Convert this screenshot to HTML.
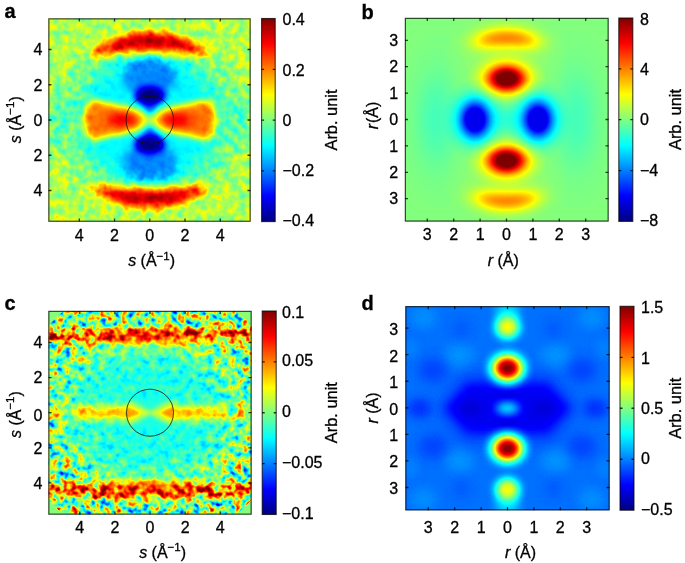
<!DOCTYPE html>
<html><head><meta charset="utf-8"><title>Figure</title>
<style>
html,body{margin:0;padding:0;background:#fff;}
svg{display:block;}
text{font-family:"Liberation Sans",sans-serif;fill:#000;stroke:#000;stroke-width:0.3px;}
.t{font-size:16px;}
.l{font-size:16px;}
.u{font-size:16.4px;}
.p{font-size:20px;font-weight:bold;fill:#000;}
.i{font-style:italic;}
.s{font-size:11.5px;}
</style></head><body>
<svg width="685" height="563" viewBox="0 0 685 563">
<defs>
<filter id="b1" filterUnits="userSpaceOnUse" x="-170" y="-170" width="340" height="340" color-interpolation-filters="sRGB"><feGaussianBlur stdDeviation="1"/></filter>
<filter id="b2" filterUnits="userSpaceOnUse" x="-170" y="-170" width="340" height="340" color-interpolation-filters="sRGB"><feGaussianBlur stdDeviation="2"/></filter>
<filter id="b3" filterUnits="userSpaceOnUse" x="-170" y="-170" width="340" height="340" color-interpolation-filters="sRGB"><feGaussianBlur stdDeviation="3"/></filter>
<filter id="b4" filterUnits="userSpaceOnUse" x="-170" y="-170" width="340" height="340" color-interpolation-filters="sRGB"><feGaussianBlur stdDeviation="4"/></filter>
<filter id="b5" filterUnits="userSpaceOnUse" x="-170" y="-170" width="340" height="340" color-interpolation-filters="sRGB"><feGaussianBlur stdDeviation="5"/></filter>
<filter id="b6" filterUnits="userSpaceOnUse" x="-170" y="-170" width="340" height="340" color-interpolation-filters="sRGB"><feGaussianBlur stdDeviation="6"/></filter>
<filter id="b8" filterUnits="userSpaceOnUse" x="-170" y="-170" width="340" height="340" color-interpolation-filters="sRGB"><feGaussianBlur stdDeviation="8"/></filter>
<filter id="b10" filterUnits="userSpaceOnUse" x="-170" y="-170" width="340" height="340" color-interpolation-filters="sRGB"><feGaussianBlur stdDeviation="10"/></filter>
<filter id="b14" filterUnits="userSpaceOnUse" x="-170" y="-170" width="340" height="340" color-interpolation-filters="sRGB"><feGaussianBlur stdDeviation="14"/></filter>
<filter id="b15" filterUnits="userSpaceOnUse" x="-170" y="-170" width="340" height="340" color-interpolation-filters="sRGB"><feGaussianBlur stdDeviation="1.5"/></filter>
<filter id="b25" filterUnits="userSpaceOnUse" x="-170" y="-170" width="340" height="340" color-interpolation-filters="sRGB"><feGaussianBlur stdDeviation="2.5"/></filter>
<filter id="b07" filterUnits="userSpaceOnUse" x="-170" y="-170" width="340" height="340" color-interpolation-filters="sRGB"><feGaussianBlur stdDeviation="0.7"/></filter>
<filter id="chR" x="-20%" y="-20%" width="140%" height="140%" color-interpolation-filters="sRGB"><feColorMatrix type="matrix" values="1 0 0 0 0  0 0 0 0 0  0 0 0 0 0  0 0 0 0 1"/></filter>
<filter id="chG" x="-20%" y="-20%" width="140%" height="140%" color-interpolation-filters="sRGB"><feColorMatrix type="matrix" values="0 0 0 0 0  0 1 0 0 0  0 0 0 0 0  0 0 0 0 1"/></filter>
<filter id="jetA" filterUnits="userSpaceOnUse" x="48.5" y="18.5" width="202" height="203.1" color-interpolation-filters="sRGB">
<feColorMatrix in="SourceGraphic" type="matrix" values="1 0 0 0 0  1 0 0 0 0  1 0 0 0 0  0 0 0 0 1" result="F"/>
<feColorMatrix in="SourceGraphic" type="matrix" values="0 1 0 0 0  0 1 0 0 0  0 1 0 0 0  0 0 0 0 1" result="A"/>
<feTurbulence type="fractalNoise" baseFrequency="0.13" numOctaves="2" seed="3" result="T0"/>
<feColorMatrix in="T0" type="matrix" values="1 0 0 0 0  1 0 0 0 0  1 0 0 0 0  0 0 0 0 1" result="N"/>
<feComposite in="A" in2="N" operator="arithmetic" k1="1" k2="-0.5" k3="0" k4="0.5" result="T"/>
<feComposite in="F" in2="T" operator="arithmetic" k1="0" k2="1" k3="0.3" k4="-0.15" result="V"/>
<feComponentTransfer in="V">
<feFuncR type="table" tableValues="0 0 0 0 0.5 1 1 1 0.5"/>
<feFuncG type="table" tableValues="0 0 0.5 1 1 1 0.5 0 0"/>
<feFuncB type="table" tableValues="0.5 1 1 1 0.5 0 0 0 0"/>
</feComponentTransfer>
</filter>
<clipPath id="clipA"><rect x="48.5" y="18.5" width="202" height="203.1"/></clipPath>
<linearGradient id="cb261_18" x1="0" y1="1" x2="0" y2="0"><stop offset="0" stop-color="#000080"/><stop offset="0.125" stop-color="#0000ff"/><stop offset="0.25" stop-color="#0080ff"/><stop offset="0.375" stop-color="#00ffff"/><stop offset="0.5" stop-color="#80ff80"/><stop offset="0.625" stop-color="#ffff00"/><stop offset="0.75" stop-color="#ff8000"/><stop offset="0.875" stop-color="#ff0000"/><stop offset="1" stop-color="#800000"/></linearGradient>
<radialGradient id="gg0"><stop offset="0.0000" stop-color="#000" stop-opacity="0.1200"/><stop offset="0.0417" stop-color="#000" stop-opacity="0.1191"/><stop offset="0.0833" stop-color="#000" stop-opacity="0.1163"/><stop offset="0.1250" stop-color="#000" stop-opacity="0.1119"/><stop offset="0.1667" stop-color="#000" stop-opacity="0.1059"/><stop offset="0.2083" stop-color="#000" stop-opacity="0.0987"/><stop offset="0.2500" stop-color="#000" stop-opacity="0.0906"/><stop offset="0.2917" stop-color="#000" stop-opacity="0.0818"/><stop offset="0.3333" stop-color="#000" stop-opacity="0.0728"/><stop offset="0.3750" stop-color="#000" stop-opacity="0.0637"/><stop offset="0.4167" stop-color="#000" stop-opacity="0.0549"/><stop offset="0.4583" stop-color="#000" stop-opacity="0.0466"/><stop offset="0.5000" stop-color="#000" stop-opacity="0.0390"/><stop offset="0.5417" stop-color="#000" stop-opacity="0.0320"/><stop offset="0.5833" stop-color="#000" stop-opacity="0.0260"/><stop offset="0.6250" stop-color="#000" stop-opacity="0.0207"/><stop offset="0.6667" stop-color="#000" stop-opacity="0.0162"/><stop offset="0.7083" stop-color="#000" stop-opacity="0.0125"/><stop offset="0.7500" stop-color="#000" stop-opacity="0.0095"/><stop offset="0.7917" stop-color="#000" stop-opacity="0.0072"/><stop offset="0.8333" stop-color="#000" stop-opacity="0.0053"/><stop offset="0.8750" stop-color="#000" stop-opacity="0.0038"/><stop offset="0.9167" stop-color="#000" stop-opacity="0.0027"/><stop offset="0.9583" stop-color="#000" stop-opacity="0.0019"/><stop offset="1.0000" stop-color="#000" stop-opacity="0.0000"/></radialGradient>
<radialGradient id="gg1"><stop offset="0.0000" stop-color="#000" stop-opacity="0.1600"/><stop offset="0.0417" stop-color="#000" stop-opacity="0.1588"/><stop offset="0.0833" stop-color="#000" stop-opacity="0.1551"/><stop offset="0.1250" stop-color="#000" stop-opacity="0.1491"/><stop offset="0.1667" stop-color="#000" stop-opacity="0.1412"/><stop offset="0.2083" stop-color="#000" stop-opacity="0.1316"/><stop offset="0.2500" stop-color="#000" stop-opacity="0.1208"/><stop offset="0.2917" stop-color="#000" stop-opacity="0.1091"/><stop offset="0.3333" stop-color="#000" stop-opacity="0.0970"/><stop offset="0.3750" stop-color="#000" stop-opacity="0.0850"/><stop offset="0.4167" stop-color="#000" stop-opacity="0.0733"/><stop offset="0.4583" stop-color="#000" stop-opacity="0.0622"/><stop offset="0.5000" stop-color="#000" stop-opacity="0.0519"/><stop offset="0.5417" stop-color="#000" stop-opacity="0.0427"/><stop offset="0.5833" stop-color="#000" stop-opacity="0.0346"/><stop offset="0.6250" stop-color="#000" stop-opacity="0.0276"/><stop offset="0.6667" stop-color="#000" stop-opacity="0.0217"/><stop offset="0.7083" stop-color="#000" stop-opacity="0.0167"/><stop offset="0.7500" stop-color="#000" stop-opacity="0.0127"/><stop offset="0.7917" stop-color="#000" stop-opacity="0.0095"/><stop offset="0.8333" stop-color="#000" stop-opacity="0.0070"/><stop offset="0.8750" stop-color="#000" stop-opacity="0.0051"/><stop offset="0.9167" stop-color="#000" stop-opacity="0.0036"/><stop offset="0.9583" stop-color="#000" stop-opacity="0.0026"/><stop offset="1.0000" stop-color="#000" stop-opacity="0.0000"/></radialGradient>
<radialGradient id="gg2"><stop offset="0.0000" stop-color="#fff" stop-opacity="0.0850"/><stop offset="0.0417" stop-color="#fff" stop-opacity="0.0843"/><stop offset="0.0833" stop-color="#fff" stop-opacity="0.0824"/><stop offset="0.1250" stop-color="#fff" stop-opacity="0.0792"/><stop offset="0.1667" stop-color="#fff" stop-opacity="0.0750"/><stop offset="0.2083" stop-color="#fff" stop-opacity="0.0699"/><stop offset="0.2500" stop-color="#fff" stop-opacity="0.0642"/><stop offset="0.2917" stop-color="#fff" stop-opacity="0.0580"/><stop offset="0.3333" stop-color="#fff" stop-opacity="0.0516"/><stop offset="0.3750" stop-color="#fff" stop-opacity="0.0451"/><stop offset="0.4167" stop-color="#fff" stop-opacity="0.0389"/><stop offset="0.4583" stop-color="#fff" stop-opacity="0.0330"/><stop offset="0.5000" stop-color="#fff" stop-opacity="0.0276"/><stop offset="0.5417" stop-color="#fff" stop-opacity="0.0227"/><stop offset="0.5833" stop-color="#fff" stop-opacity="0.0184"/><stop offset="0.6250" stop-color="#fff" stop-opacity="0.0147"/><stop offset="0.6667" stop-color="#fff" stop-opacity="0.0115"/><stop offset="0.7083" stop-color="#fff" stop-opacity="0.0089"/><stop offset="0.7500" stop-color="#fff" stop-opacity="0.0068"/><stop offset="0.7917" stop-color="#fff" stop-opacity="0.0051"/><stop offset="0.8333" stop-color="#fff" stop-opacity="0.0037"/><stop offset="0.8750" stop-color="#fff" stop-opacity="0.0027"/><stop offset="0.9167" stop-color="#fff" stop-opacity="0.0019"/><stop offset="0.9583" stop-color="#fff" stop-opacity="0.0014"/><stop offset="1.0000" stop-color="#fff" stop-opacity="0.0000"/></radialGradient>
<radialGradient id="gg3"><stop offset="0.0000" stop-color="#fff" stop-opacity="1.0000"/><stop offset="0.0417" stop-color="#fff" stop-opacity="1.0000"/><stop offset="0.0833" stop-color="#fff" stop-opacity="1.0000"/><stop offset="0.1250" stop-color="#fff" stop-opacity="1.0000"/><stop offset="0.1667" stop-color="#fff" stop-opacity="1.0000"/><stop offset="0.2083" stop-color="#fff" stop-opacity="1.0000"/><stop offset="0.2500" stop-color="#fff" stop-opacity="0.9813"/><stop offset="0.2917" stop-color="#fff" stop-opacity="0.8865"/><stop offset="0.3333" stop-color="#fff" stop-opacity="0.7885"/><stop offset="0.3750" stop-color="#fff" stop-opacity="0.6904"/><stop offset="0.4167" stop-color="#fff" stop-opacity="0.5952"/><stop offset="0.4583" stop-color="#fff" stop-opacity="0.5051"/><stop offset="0.5000" stop-color="#fff" stop-opacity="0.4220"/><stop offset="0.5417" stop-color="#fff" stop-opacity="0.3472"/><stop offset="0.5833" stop-color="#fff" stop-opacity="0.2811"/><stop offset="0.6250" stop-color="#fff" stop-opacity="0.2241"/><stop offset="0.6667" stop-color="#fff" stop-opacity="0.1759"/><stop offset="0.7083" stop-color="#fff" stop-opacity="0.1360"/><stop offset="0.7500" stop-color="#fff" stop-opacity="0.1034"/><stop offset="0.7917" stop-color="#fff" stop-opacity="0.0775"/><stop offset="0.8333" stop-color="#fff" stop-opacity="0.0571"/><stop offset="0.8750" stop-color="#fff" stop-opacity="0.0415"/><stop offset="0.9167" stop-color="#fff" stop-opacity="0.0296"/><stop offset="0.9583" stop-color="#fff" stop-opacity="0.0208"/><stop offset="1.0000" stop-color="#fff" stop-opacity="0.0000"/></radialGradient>
<radialGradient id="gg4"><stop offset="0.0000" stop-color="#fff" stop-opacity="0.3300"/><stop offset="0.0417" stop-color="#fff" stop-opacity="0.3274"/><stop offset="0.0833" stop-color="#fff" stop-opacity="0.3198"/><stop offset="0.1250" stop-color="#fff" stop-opacity="0.3076"/><stop offset="0.1667" stop-color="#fff" stop-opacity="0.2912"/><stop offset="0.2083" stop-color="#fff" stop-opacity="0.2715"/><stop offset="0.2500" stop-color="#fff" stop-opacity="0.2491"/><stop offset="0.2917" stop-color="#fff" stop-opacity="0.2250"/><stop offset="0.3333" stop-color="#fff" stop-opacity="0.2002"/><stop offset="0.3750" stop-color="#fff" stop-opacity="0.1753"/><stop offset="0.4167" stop-color="#fff" stop-opacity="0.1511"/><stop offset="0.4583" stop-color="#fff" stop-opacity="0.1282"/><stop offset="0.5000" stop-color="#fff" stop-opacity="0.1071"/><stop offset="0.5417" stop-color="#fff" stop-opacity="0.0881"/><stop offset="0.5833" stop-color="#fff" stop-opacity="0.0714"/><stop offset="0.6250" stop-color="#fff" stop-opacity="0.0569"/><stop offset="0.6667" stop-color="#fff" stop-opacity="0.0447"/><stop offset="0.7083" stop-color="#fff" stop-opacity="0.0345"/><stop offset="0.7500" stop-color="#fff" stop-opacity="0.0263"/><stop offset="0.7917" stop-color="#fff" stop-opacity="0.0197"/><stop offset="0.8333" stop-color="#fff" stop-opacity="0.0145"/><stop offset="0.8750" stop-color="#fff" stop-opacity="0.0105"/><stop offset="0.9167" stop-color="#fff" stop-opacity="0.0075"/><stop offset="0.9583" stop-color="#fff" stop-opacity="0.0053"/><stop offset="1.0000" stop-color="#fff" stop-opacity="0.0000"/></radialGradient>
<radialGradient id="gg5"><stop offset="0.0000" stop-color="#fff" stop-opacity="0.2500"/><stop offset="0.0417" stop-color="#fff" stop-opacity="0.2481"/><stop offset="0.0833" stop-color="#fff" stop-opacity="0.2423"/><stop offset="0.1250" stop-color="#fff" stop-opacity="0.2330"/><stop offset="0.1667" stop-color="#fff" stop-opacity="0.2206"/><stop offset="0.2083" stop-color="#fff" stop-opacity="0.2056"/><stop offset="0.2500" stop-color="#fff" stop-opacity="0.1887"/><stop offset="0.2917" stop-color="#fff" stop-opacity="0.1705"/><stop offset="0.3333" stop-color="#fff" stop-opacity="0.1516"/><stop offset="0.3750" stop-color="#fff" stop-opacity="0.1328"/><stop offset="0.4167" stop-color="#fff" stop-opacity="0.1145"/><stop offset="0.4583" stop-color="#fff" stop-opacity="0.0971"/><stop offset="0.5000" stop-color="#fff" stop-opacity="0.0812"/><stop offset="0.5417" stop-color="#fff" stop-opacity="0.0668"/><stop offset="0.5833" stop-color="#fff" stop-opacity="0.0541"/><stop offset="0.6250" stop-color="#fff" stop-opacity="0.0431"/><stop offset="0.6667" stop-color="#fff" stop-opacity="0.0338"/><stop offset="0.7083" stop-color="#fff" stop-opacity="0.0261"/><stop offset="0.7500" stop-color="#fff" stop-opacity="0.0199"/><stop offset="0.7917" stop-color="#fff" stop-opacity="0.0149"/><stop offset="0.8333" stop-color="#fff" stop-opacity="0.0110"/><stop offset="0.8750" stop-color="#fff" stop-opacity="0.0080"/><stop offset="0.9167" stop-color="#fff" stop-opacity="0.0057"/><stop offset="0.9583" stop-color="#fff" stop-opacity="0.0040"/><stop offset="1.0000" stop-color="#fff" stop-opacity="0.0000"/></radialGradient>
<radialGradient id="gg6"><stop offset="0.0000" stop-color="#000" stop-opacity="0.7800"/><stop offset="0.0417" stop-color="#000" stop-opacity="0.7800"/><stop offset="0.0833" stop-color="#000" stop-opacity="0.7800"/><stop offset="0.1250" stop-color="#000" stop-opacity="0.7800"/><stop offset="0.1667" stop-color="#000" stop-opacity="0.7800"/><stop offset="0.2083" stop-color="#000" stop-opacity="0.7800"/><stop offset="0.2500" stop-color="#000" stop-opacity="0.7800"/><stop offset="0.2917" stop-color="#000" stop-opacity="0.7501"/><stop offset="0.3333" stop-color="#000" stop-opacity="0.6672"/><stop offset="0.3750" stop-color="#000" stop-opacity="0.5842"/><stop offset="0.4167" stop-color="#000" stop-opacity="0.5036"/><stop offset="0.4583" stop-color="#000" stop-opacity="0.4274"/><stop offset="0.5000" stop-color="#000" stop-opacity="0.3571"/><stop offset="0.5417" stop-color="#000" stop-opacity="0.2938"/><stop offset="0.5833" stop-color="#000" stop-opacity="0.2379"/><stop offset="0.6250" stop-color="#000" stop-opacity="0.1897"/><stop offset="0.6667" stop-color="#000" stop-opacity="0.1489"/><stop offset="0.7083" stop-color="#000" stop-opacity="0.1150"/><stop offset="0.7500" stop-color="#000" stop-opacity="0.0875"/><stop offset="0.7917" stop-color="#000" stop-opacity="0.0655"/><stop offset="0.8333" stop-color="#000" stop-opacity="0.0483"/><stop offset="0.8750" stop-color="#000" stop-opacity="0.0351"/><stop offset="0.9167" stop-color="#000" stop-opacity="0.0251"/><stop offset="0.9583" stop-color="#000" stop-opacity="0.0176"/><stop offset="1.0000" stop-color="#000" stop-opacity="0.0000"/></radialGradient>
<filter id="jetB" filterUnits="userSpaceOnUse" x="405" y="18" width="203.5" height="203.4" color-interpolation-filters="sRGB">
<feComponentTransfer in="SourceGraphic">
<feFuncR type="table" tableValues="0 0 0 0 0.5 1 1 1 0.5"/>
<feFuncG type="table" tableValues="0 0 0.5 1 1 1 0.5 0 0"/>
<feFuncB type="table" tableValues="0.5 1 1 1 0.5 0 0 0 0"/>
</feComponentTransfer>
</filter>
<clipPath id="clipB"><rect x="405" y="18" width="203.5" height="203.4"/></clipPath>
<linearGradient id="cb618_18" x1="0" y1="1" x2="0" y2="0"><stop offset="0" stop-color="#000080"/><stop offset="0.125" stop-color="#0000ff"/><stop offset="0.25" stop-color="#0080ff"/><stop offset="0.375" stop-color="#00ffff"/><stop offset="0.5" stop-color="#80ff80"/><stop offset="0.625" stop-color="#ffff00"/><stop offset="0.75" stop-color="#ff8000"/><stop offset="0.875" stop-color="#ff0000"/><stop offset="1" stop-color="#800000"/></linearGradient>
<clipPath id="clipCin"><circle r="23.5"/></clipPath>
<radialGradient id="ampC" gradientUnits="userSpaceOnUse" cx="0" cy="0" r="134" gradientTransform="scale(1.13,1)"><stop offset="0" stop-color="#262626"/><stop offset="0.3" stop-color="#2e2e2e"/><stop offset="0.5" stop-color="#575757"/><stop offset="0.66" stop-color="#bfbfbf"/><stop offset="0.8" stop-color="#ffffff"/><stop offset="1" stop-color="#ffffff"/></radialGradient>
<filter id="jetC" filterUnits="userSpaceOnUse" x="48.5" y="311" width="203" height="203.5" color-interpolation-filters="sRGB">
<feColorMatrix in="SourceGraphic" type="matrix" values="1 0 0 0 0  1 0 0 0 0  1 0 0 0 0  0 0 0 0 1" result="F"/>
<feColorMatrix in="SourceGraphic" type="matrix" values="0 1 0 0 0  0 1 0 0 0  0 1 0 0 0  0 0 0 0 1" result="A"/>
<feTurbulence type="fractalNoise" baseFrequency="0.14" numOctaves="2" seed="7" result="T0"/>
<feColorMatrix in="T0" type="matrix" values="1 0 0 0 0  1 0 0 0 0  1 0 0 0 0  0 0 0 0 1" result="N"/>
<feComposite in="A" in2="N" operator="arithmetic" k1="1" k2="-0.5" k3="0" k4="0.5" result="T"/>
<feComposite in="F" in2="T" operator="arithmetic" k1="0" k2="1" k3="1.3" k4="-0.65" result="V"/>
<feComponentTransfer in="V">
<feFuncR type="table" tableValues="0 0 0 0 0.5 1 1 1 0.5"/>
<feFuncG type="table" tableValues="0 0 0.5 1 1 1 0.5 0 0"/>
<feFuncB type="table" tableValues="0.5 1 1 1 0.5 0 0 0 0"/>
</feComponentTransfer>
</filter>
<clipPath id="clipC"><rect x="48.5" y="311" width="203" height="203.5"/></clipPath>
<linearGradient id="cb262_311" x1="0" y1="1" x2="0" y2="0"><stop offset="0" stop-color="#000080"/><stop offset="0.125" stop-color="#0000ff"/><stop offset="0.25" stop-color="#0080ff"/><stop offset="0.375" stop-color="#00ffff"/><stop offset="0.5" stop-color="#80ff80"/><stop offset="0.625" stop-color="#ffff00"/><stop offset="0.75" stop-color="#ff8000"/><stop offset="0.875" stop-color="#ff0000"/><stop offset="1" stop-color="#800000"/></linearGradient>
<filter id="jetD" filterUnits="userSpaceOnUse" x="405.5" y="306.3" width="204" height="203.9" color-interpolation-filters="sRGB">
<feComponentTransfer in="SourceGraphic">
<feFuncR type="table" tableValues="0 0 0 0 0.5 1 1 1 0.5"/>
<feFuncG type="table" tableValues="0 0 0.5 1 1 1 0.5 0 0"/>
<feFuncB type="table" tableValues="0.5 1 1 1 0.5 0 0 0 0"/>
</feComponentTransfer>
</filter>
<clipPath id="clipD"><rect x="405.5" y="306.3" width="204" height="203.9"/></clipPath>
<linearGradient id="cb620_306" x1="0" y1="1" x2="0" y2="0"><stop offset="0" stop-color="#000080"/><stop offset="0.125" stop-color="#0000ff"/><stop offset="0.25" stop-color="#0080ff"/><stop offset="0.375" stop-color="#00ffff"/><stop offset="0.5" stop-color="#80ff80"/><stop offset="0.625" stop-color="#ffff00"/><stop offset="0.75" stop-color="#ff8000"/><stop offset="0.875" stop-color="#ff0000"/><stop offset="1" stop-color="#800000"/></linearGradient>
</defs>
<g clip-path="url(#clipA)"><g filter="url(#jetA)"><g filter="url(#chR)"><rect x="28.5" y="-1.5" width="242" height="243.1" fill="#8c8c8c"/><g transform="translate(149.8,120.0)"><ellipse cx="0" cy="0" rx="92" ry="88" fill="#787878" opacity="0.8" filter="url(#b8)"/><ellipse cx="0" cy="0" rx="70" ry="64" fill="#5e5e5e" opacity="0.95" filter="url(#b8)"/><ellipse cx="90" cy="0" rx="10" ry="30" fill="#707070" opacity="0.8" filter="url(#b6)"/><g transform="scale(-1,1)"><ellipse cx="90" cy="0" rx="10" ry="30" fill="#707070" opacity="0.8" filter="url(#b6)"/></g><ellipse rx="24" ry="3.5" fill="#757575" opacity="0.8" transform="rotate(42)" filter="url(#b25)"/><ellipse rx="24" ry="3.5" fill="#757575" opacity="0.8" transform="rotate(-42)" filter="url(#b25)"/><ellipse cx="0" cy="0" rx="9" ry="5" fill="#878787" opacity="0.9" filter="url(#b3)"/><ellipse cx="0" cy="-43" rx="27" ry="19" fill="#404040" opacity="0.95" filter="url(#b5)"/><ellipse cx="0" cy="-14.5" rx="6" ry="7" fill="#333333" opacity="0.8" filter="url(#b3)"/><ellipse cx="0" cy="-24.2" rx="15" ry="9.5" fill="#000000" opacity="0.97" filter="url(#b3)"/><g transform="scale(1,-1)"><ellipse cx="0" cy="-43" rx="27" ry="19" fill="#404040" opacity="0.95" filter="url(#b5)"/><ellipse cx="0" cy="-14.5" rx="6" ry="7" fill="#333333" opacity="0.8" filter="url(#b3)"/><ellipse cx="0" cy="-24.2" rx="15" ry="9.5" fill="#000000" opacity="0.97" filter="url(#b3)"/></g><polygon points="1,0 9,-9 23,-14.5 40,-17.5 54,-21 63.5,-19 68,0 63.5,19 54,21 40,17.5 23,14.5 9,9" fill="#a3a3a3" opacity="0.88" filter="url(#b3)"/><polygon points="6,0 13,-6 24,-10 40,-13.5 54,-17 61,-15 64.5,0 61,15 54,17 40,13.5 24,10 13,6" fill="#c3c3c3" opacity="1.0" filter="url(#b3)"/><ellipse cx="28" cy="0" rx="14" ry="6.5" fill="#ebebeb" opacity="0.85" filter="url(#b4)"/><g transform="scale(-1,1)"><polygon points="1,0 9,-9 23,-14.5 40,-17.5 54,-21 63.5,-19 68,0 63.5,19 54,21 40,17.5 23,14.5 9,9" fill="#a3a3a3" opacity="0.88" filter="url(#b3)"/><polygon points="6,0 13,-6 24,-10 40,-13.5 54,-17 61,-15 64.5,0 61,15 54,17 40,13.5 24,10 13,6" fill="#c3c3c3" opacity="1.0" filter="url(#b3)"/><ellipse cx="28" cy="0" rx="14" ry="6.5" fill="#ebebeb" opacity="0.85" filter="url(#b4)"/></g><path d="M-55 -68Q0 -103 55 -68Q0 -76 -55 -68Z" fill="#aaaaaa" stroke="#aaaaaa" stroke-width="12" stroke-linejoin="round" opacity="0.9" filter="url(#b3)"/><path d="M-55 -68Q0 -103 55 -68Q0 -76 -55 -68Z" fill="#dedede" stroke="#dedede" stroke-width="3.5" stroke-linejoin="round" opacity="0.95" filter="url(#b3)"/><path d="M-38 -74Q0 -87 38 -74Q0 -81 -38 -74Z" fill="#ffffff" stroke="#ffffff" stroke-width="2.5" opacity="0.95" filter="url(#b3)"/><g transform="scale(1,-1)"><path d="M-55 -68Q0 -103 55 -68Q0 -76 -55 -68Z" fill="#aaaaaa" stroke="#aaaaaa" stroke-width="12" stroke-linejoin="round" opacity="0.9" filter="url(#b3)"/><path d="M-55 -68Q0 -103 55 -68Q0 -76 -55 -68Z" fill="#dedede" stroke="#dedede" stroke-width="3.5" stroke-linejoin="round" opacity="0.95" filter="url(#b3)"/><path d="M-38 -74Q0 -87 38 -74Q0 -81 -38 -74Z" fill="#ffffff" stroke="#ffffff" stroke-width="2.5" opacity="0.95" filter="url(#b3)"/></g></g></g><g filter="url(#chG)" style="mix-blend-mode:screen"><rect x="28.5" y="-1.5" width="242" height="243.1" fill="#ffffff"/><g transform="translate(149.8,120.0)"><ellipse cx="0" cy="0" rx="66" ry="60" fill="#262626" opacity="1.0" filter="url(#b10)"/><ellipse cx="0" cy="-78" rx="50" ry="9" fill="#737373" opacity="0.9" filter="url(#b5)"/><g transform="scale(1,-1)"><ellipse cx="0" cy="-78" rx="50" ry="9" fill="#737373" opacity="0.9" filter="url(#b5)"/></g></g></g></g><g transform="translate(149.8,120.0)"><circle r="23.8" fill="none" stroke="#111" stroke-opacity="0.85" stroke-width="0.95"/></g></g>
<rect x="48.85" y="18.85" width="201.30" height="202.40" fill="none" stroke="#000" stroke-opacity="0.72" stroke-width="1.2"/><text class="t" text-anchor="middle" x="79.32" y="240.5">4</text><text class="t" text-anchor="end" x="42.3" y="55.27">4</text><text class="t" text-anchor="middle" x="114.56" y="240.5">2</text><text class="t" text-anchor="end" x="42.3" y="90.51">2</text><text class="t" text-anchor="middle" x="149.80" y="240.5">0</text><text class="t" text-anchor="end" x="42.3" y="125.75">0</text><text class="t" text-anchor="middle" x="185.04" y="240.5">2</text><text class="t" text-anchor="end" x="42.3" y="160.99">2</text><text class="t" text-anchor="middle" x="220.28" y="240.5">4</text><text class="t" text-anchor="end" x="42.3" y="196.23">4</text><path d="M79.32 221.6v-3M79.32 18.5v3M48.5 49.52h3M250.5 49.52h-3M114.56 221.6v-3M114.56 18.5v3M48.5 84.76h3M250.5 84.76h-3M149.80 221.6v-3M149.80 18.5v3M48.5 120.00h3M250.5 120.00h-3M185.04 221.6v-3M185.04 18.5v3M48.5 155.24h3M250.5 155.24h-3M220.28 221.6v-3M220.28 18.5v3M48.5 190.48h3M250.5 190.48h-3" stroke="#000" stroke-opacity="0.75" stroke-width="1.3" fill="none"/>
<rect x="261.6" y="18.5" width="13.6" height="203.1" fill="url(#cb261_18)" stroke="#000" stroke-opacity="0.75" stroke-width="1.1"/><text class="t" x="282.5" y="25.37">0.4</text><path d="M261.6 69.28h2.5M275.20000000000005 69.28h-2.5" stroke="#000" stroke-opacity="0.8" stroke-width="1.3"/><text class="t" x="282.5" y="75.58">0.2</text><path d="M261.6 120.05h2.5M275.20000000000005 120.05h-2.5" stroke="#000" stroke-opacity="0.8" stroke-width="1.3"/><text class="t" x="282.5" y="125.80">0</text><path d="M261.6 170.82h2.5M275.20000000000005 170.82h-2.5" stroke="#000" stroke-opacity="0.8" stroke-width="1.3"/><text class="t" x="282.5" y="176.02">−0.2</text><text class="t" x="282.5" y="226.23">−0.4</text>
<text class="l" text-anchor="middle" x="151.6" y="266.3"><tspan class="i">s</tspan> (Å<tspan class="s" dy="-6.8">−1</tspan><tspan dy="6.8">)</tspan></text>
<text class="l" text-anchor="middle" transform="translate(20.9,119.7) rotate(-90)"><tspan class="i">s</tspan> (Å<tspan class="s" dy="-6.8">−1</tspan><tspan dy="6.8">)</tspan></text>
<text class="u" text-anchor="middle" transform="translate(337,120) rotate(-90)">Arb. unit</text>
<text class="p" x="4.6" y="17.8">a</text>
<g clip-path="url(#clipB)"><g filter="url(#jetB)"><rect x="385" y="-2" width="243.5" height="243.4" fill="#808080"/><g transform="translate(506.5,119.5)"><ellipse cx="70" cy="0" rx="45.00" ry="102.00" fill="url(#gg0)"/><g transform="scale(-1,1)"><ellipse cx="70" cy="0" rx="45.00" ry="102.00" fill="url(#gg0)"/></g><ellipse cx="0" cy="0" rx="39.00" ry="33.00" fill="url(#gg1)"/><ellipse cx="0" cy="-62" rx="72.00" ry="78.00" fill="url(#gg2)"/><g transform="scale(1,-1)"><ellipse cx="0" cy="-62" rx="72.00" ry="78.00" fill="url(#gg2)"/></g><ellipse cx="0" cy="-41.0" rx="39.90" ry="27.00" fill="url(#gg3)"/><g transform="scale(1,-1)"><ellipse cx="0" cy="-41.0" rx="39.90" ry="27.00" fill="url(#gg3)"/></g><ellipse cx="0" cy="-81.6" rx="48.00" ry="20.70" fill="url(#gg4)"/><ellipse cx="18" cy="-79.4" rx="39.00" ry="19.80" fill="url(#gg5)" transform="rotate(9 18 -79.4)"/><ellipse cx="-18" cy="-79.4" rx="39.00" ry="19.80" fill="url(#gg5)" transform="rotate(-9 -18 -79.4)"/><g transform="scale(1,-1)"><ellipse cx="0" cy="-81.6" rx="48.00" ry="20.70" fill="url(#gg4)"/><ellipse cx="18" cy="-79.4" rx="39.00" ry="19.80" fill="url(#gg5)" transform="rotate(9 18 -79.4)"/><ellipse cx="-18" cy="-79.4" rx="39.00" ry="19.80" fill="url(#gg5)" transform="rotate(-9 -18 -79.4)"/></g><ellipse cx="31.5" cy="0" rx="33.00" ry="40.50" fill="url(#gg6)"/><g transform="scale(-1,1)"><ellipse cx="31.5" cy="0" rx="33.00" ry="40.50" fill="url(#gg6)"/></g></g></g></g>
<rect x="405.35" y="18.35" width="202.80" height="202.70" fill="none" stroke="#000" stroke-opacity="0.72" stroke-width="1.2"/><text class="t" text-anchor="middle" x="427.30" y="240.4">3</text><text class="t" text-anchor="end" x="398.2" y="46.05">3</text><text class="t" text-anchor="middle" x="453.70" y="240.4">2</text><text class="t" text-anchor="end" x="398.2" y="72.45">2</text><text class="t" text-anchor="middle" x="480.10" y="240.4">1</text><text class="t" text-anchor="end" x="398.2" y="98.85">1</text><text class="t" text-anchor="middle" x="506.50" y="240.4">0</text><text class="t" text-anchor="end" x="398.2" y="125.25">0</text><text class="t" text-anchor="middle" x="532.90" y="240.4">1</text><text class="t" text-anchor="end" x="398.2" y="151.65">1</text><text class="t" text-anchor="middle" x="559.30" y="240.4">2</text><text class="t" text-anchor="end" x="398.2" y="178.05">2</text><text class="t" text-anchor="middle" x="585.70" y="240.4">3</text><text class="t" text-anchor="end" x="398.2" y="204.45">3</text><path d="M427.30 221.4v-3M427.30 18v3M405 40.30h3M608.5 40.30h-3M453.70 221.4v-3M453.70 18v3M405 66.70h3M608.5 66.70h-3M480.10 221.4v-3M480.10 18v3M405 93.10h3M608.5 93.10h-3M506.50 221.4v-3M506.50 18v3M405 119.50h3M608.5 119.50h-3M532.90 221.4v-3M532.90 18v3M405 145.90h3M608.5 145.90h-3M559.30 221.4v-3M559.30 18v3M405 172.30h3M608.5 172.30h-3M585.70 221.4v-3M585.70 18v3M405 198.70h3M608.5 198.70h-3" stroke="#000" stroke-opacity="0.75" stroke-width="1.3" fill="none"/>
<rect x="618.8" y="18" width="14" height="203.4" fill="url(#cb618_18)" stroke="#000" stroke-opacity="0.75" stroke-width="1.1"/><text class="t" x="639.9" y="24.87">8</text><path d="M618.8 68.85h2.5M632.8 68.85h-2.5" stroke="#000" stroke-opacity="0.8" stroke-width="1.3"/><text class="t" x="639.9" y="75.16">4</text><path d="M618.8 119.70h2.5M632.8 119.70h-2.5" stroke="#000" stroke-opacity="0.8" stroke-width="1.3"/><text class="t" x="639.9" y="125.45">0</text><path d="M618.8 170.55h2.5M632.8 170.55h-2.5" stroke="#000" stroke-opacity="0.8" stroke-width="1.3"/><text class="t" x="639.9" y="175.74">−4</text><text class="t" x="639.9" y="226.03">−8</text>
<text class="l" text-anchor="middle" x="503.3" y="266.3"><tspan class="i">r</tspan> (Å)</text>
<text class="l" text-anchor="middle" transform="translate(377.8,115.5) rotate(-90)"><tspan class="i">r</tspan><tspan dx="1">(Å)</tspan></text>
<text class="u" text-anchor="middle" transform="translate(680.5,119.5) rotate(-90)">Arb. unit</text>
<text class="p" x="361.4" y="18.5">b</text>
<g clip-path="url(#clipC)"><g filter="url(#jetC)"><g filter="url(#chR)"><rect x="28.5" y="291" width="243" height="243.5" fill="#808080"/><g transform="translate(150,412.7)"><ellipse cx="0" cy="0" rx="136" ry="131.5" fill="#808080" opacity="1.0"/><ellipse cx="0" cy="0" rx="84" ry="60" fill="#676767" opacity="0.95" filter="url(#b8)"/><rect x="-120" y="-83.5" width="240" height="12.5" fill="#d1d1d1" opacity="0.95" filter="url(#b3)"/><rect x="-45" y="-83" width="90" height="11" fill="#e6e6e6" opacity="0.6" filter="url(#b4)"/><g transform="scale(1,-1)"><rect x="-120" y="-83.5" width="240" height="12.5" fill="#d1d1d1" opacity="0.95" filter="url(#b3)"/><rect x="-45" y="-83" width="90" height="11" fill="#e6e6e6" opacity="0.6" filter="url(#b4)"/></g><rect x="-78" y="-8.5" width="156" height="17" fill="#999999" opacity="0.95" filter="url(#b3)"/><rect x="-72" y="-3.5" width="144" height="7" fill="#b5b5b5" opacity="0.85" filter="url(#b2)"/><ellipse cx="-91" cy="0" rx="3.4" ry="5.5" fill="#ffffff" opacity="0.95" filter="url(#b15)"/><ellipse cx="-91" cy="0" rx="7" ry="10" fill="#9e9e9e" opacity="0.7" filter="url(#b3)"/><g transform="scale(-1,1)"><ellipse cx="-91" cy="0" rx="3.4" ry="5.5" fill="#ffffff" opacity="0.95" filter="url(#b15)"/><ellipse cx="-91" cy="0" rx="7" ry="10" fill="#9e9e9e" opacity="0.7" filter="url(#b3)"/></g><g clip-path="url(#clipCin)"><circle r="23.5" fill="#676767"/><polygon points="-26,-15 0,-1.5 26,-15 26,15 0,1.5 -26,15" fill="#999999" opacity="0.95" filter="url(#b25)"/><polygon points="9,0 25,-7 25,7" fill="#bdbdbd" opacity="0.9" filter="url(#b15)"/><g transform="scale(-1,1)"><polygon points="9,0 25,-7 25,7" fill="#bdbdbd" opacity="0.9" filter="url(#b15)"/></g><polygon points="-9,-23 -5,-12 -3,-22" fill="#4c4c4c" opacity="0.7" filter="url(#b1)"/><polygon points="4,-23 6,-14 9,-21" fill="#545454" opacity="0.6" filter="url(#b1)"/><g transform="scale(1,-1)"><polygon points="-9,-23 -5,-12 -3,-22" fill="#4c4c4c" opacity="0.7" filter="url(#b1)"/><polygon points="4,-23 6,-14 9,-21" fill="#545454" opacity="0.6" filter="url(#b1)"/></g></g></g></g><g filter="url(#chG)" style="mix-blend-mode:screen"><rect x="28.5" y="291" width="243" height="243.5" fill="#000000"/><g transform="translate(150,412.7)"><ellipse rx="136" ry="131.5" fill="url(#ampC)"/><circle r="23.5" fill="#080808"/></g></g></g><g transform="translate(150,412.7)"><circle r="23.5" fill="none" stroke="#111" stroke-opacity="0.85" stroke-width="0.95"/></g></g>
<rect x="48.85" y="311.35" width="202.30" height="202.80" fill="none" stroke="#000" stroke-opacity="0.72" stroke-width="1.2"/><text class="t" text-anchor="middle" x="79.80" y="532.7">4</text><text class="t" text-anchor="end" x="42.3" y="348.25">4</text><text class="t" text-anchor="middle" x="114.90" y="532.7">2</text><text class="t" text-anchor="end" x="42.3" y="383.35">2</text><text class="t" text-anchor="middle" x="150.00" y="532.7">0</text><text class="t" text-anchor="end" x="42.3" y="421.15">0</text><text class="t" text-anchor="middle" x="185.10" y="532.7">2</text><text class="t" text-anchor="end" x="42.3" y="453.55">2</text><text class="t" text-anchor="middle" x="220.20" y="532.7">4</text><text class="t" text-anchor="end" x="42.3" y="488.65">4</text><path d="M79.80 514.5v-3M79.80 311v3M48.5 342.50h3M251.5 342.50h-3M114.90 514.5v-3M114.90 311v3M48.5 377.60h3M251.5 377.60h-3M150.00 514.5v-3M150.00 311v3M48.5 412.70h3M251.5 412.70h-3M185.10 514.5v-3M185.10 311v3M48.5 447.80h3M251.5 447.80h-3M220.20 514.5v-3M220.20 311v3M48.5 482.90h3M251.5 482.90h-3" stroke="#000" stroke-opacity="0.75" stroke-width="1.3" fill="none"/>
<rect x="262.2" y="311" width="14" height="203.5" fill="url(#cb262_311)" stroke="#000" stroke-opacity="0.75" stroke-width="1.1"/><text class="t" x="282" y="318.17">0.1</text><path d="M262.2 361.88h2.5M276.2 361.88h-2.5" stroke="#000" stroke-opacity="0.8" stroke-width="1.3"/><text class="t" x="282" y="366.18">0.05</text><path d="M262.2 412.75h2.5M276.2 412.75h-2.5" stroke="#000" stroke-opacity="0.8" stroke-width="1.3"/><text class="t" x="282" y="416.70">0</text><path d="M262.2 463.62h2.5M276.2 463.62h-2.5" stroke="#000" stroke-opacity="0.8" stroke-width="1.3"/><text class="t" x="282" y="468.12">−0.05</text><text class="t" x="282" y="519.13">−0.1</text>
<text class="l" text-anchor="middle" x="162.6" y="558.1"><tspan class="i">s</tspan> (Å<tspan class="s" dy="-6.8">−1</tspan><tspan dy="6.8">)</tspan></text>
<text class="l" text-anchor="middle" transform="translate(20.9,414.6) rotate(-90)"><tspan class="i">s</tspan> (Å<tspan class="s" dy="-6.8">−1</tspan><tspan dy="6.8">)</tspan></text>
<text class="u" text-anchor="middle" transform="translate(337,412.7) rotate(-90)">Arb. unit</text>
<text class="p" x="4.6" y="310">c</text>
<g clip-path="url(#clipD)"><g filter="url(#jetD)"><rect x="385.5" y="286.3" width="244" height="243.9" fill="#3c3c3c"/><g transform="translate(507.5,408.3)"><ellipse cx="48" cy="-52" rx="15" ry="12" fill="#464646" opacity="0.9" filter="url(#b6)"/><ellipse cx="84" cy="-91" rx="13" ry="11" fill="#454545" opacity="0.9" filter="url(#b6)"/><ellipse cx="75" cy="-38" rx="14" ry="12" fill="#303030" opacity="0.9" filter="url(#b6)"/><ellipse cx="46" cy="-80" rx="9" ry="9" fill="#363636" opacity="0.8" filter="url(#b5)"/><ellipse cx="97" cy="-60" rx="8" ry="10" fill="#424242" opacity="0.8" filter="url(#b5)"/><g transform="scale(-1,1)"><ellipse cx="48" cy="-52" rx="15" ry="12" fill="#464646" opacity="0.9" filter="url(#b6)"/><ellipse cx="84" cy="-91" rx="13" ry="11" fill="#454545" opacity="0.9" filter="url(#b6)"/><ellipse cx="75" cy="-38" rx="14" ry="12" fill="#303030" opacity="0.9" filter="url(#b6)"/><ellipse cx="46" cy="-80" rx="9" ry="9" fill="#363636" opacity="0.8" filter="url(#b5)"/><ellipse cx="97" cy="-60" rx="8" ry="10" fill="#424242" opacity="0.8" filter="url(#b5)"/></g><g transform="scale(1,-1)"><ellipse cx="48" cy="-52" rx="15" ry="12" fill="#464646" opacity="0.9" filter="url(#b6)"/><ellipse cx="84" cy="-91" rx="13" ry="11" fill="#454545" opacity="0.9" filter="url(#b6)"/><ellipse cx="75" cy="-38" rx="14" ry="12" fill="#303030" opacity="0.9" filter="url(#b6)"/><ellipse cx="46" cy="-80" rx="9" ry="9" fill="#363636" opacity="0.8" filter="url(#b5)"/><ellipse cx="97" cy="-60" rx="8" ry="10" fill="#424242" opacity="0.8" filter="url(#b5)"/></g><g transform="scale(-1,-1)"><ellipse cx="48" cy="-52" rx="15" ry="12" fill="#464646" opacity="0.9" filter="url(#b6)"/><ellipse cx="84" cy="-91" rx="13" ry="11" fill="#454545" opacity="0.9" filter="url(#b6)"/><ellipse cx="75" cy="-38" rx="14" ry="12" fill="#303030" opacity="0.9" filter="url(#b6)"/><ellipse cx="46" cy="-80" rx="9" ry="9" fill="#363636" opacity="0.8" filter="url(#b5)"/><ellipse cx="97" cy="-60" rx="8" ry="10" fill="#424242" opacity="0.8" filter="url(#b5)"/></g><ellipse cx="88" cy="0" rx="12" ry="10" fill="#2b2b2b" opacity="0.9" filter="url(#b5)"/><g transform="scale(-1,1)"><ellipse cx="88" cy="0" rx="12" ry="10" fill="#2b2b2b" opacity="0.9" filter="url(#b5)"/></g><polygon points="-72,0 -44,-36 44,-36 72,0 44,36 -44,36" fill="#2f2f2f" opacity="0.8" filter="url(#b8)"/><polygon points="-63,0 -40,-25 40,-25 63,0 40,25 -40,25" fill="#1c1c1c" opacity="0.92" filter="url(#b5)"/><ellipse cx="36" cy="0" rx="10" ry="6" fill="#0f0f0f" opacity="0.6" filter="url(#b4)"/><g transform="scale(-1,1)"><ellipse cx="36" cy="0" rx="10" ry="6" fill="#0f0f0f" opacity="0.6" filter="url(#b4)"/></g><ellipse cx="0" cy="-13" rx="9" ry="4" fill="#121212" opacity="0.6" filter="url(#b3)"/><g transform="scale(1,-1)"><ellipse cx="0" cy="-13" rx="9" ry="4" fill="#121212" opacity="0.6" filter="url(#b3)"/></g><ellipse cx="0" cy="0" rx="11.5" ry="6" fill="#636363" opacity="0.95" filter="url(#b4)"/><ellipse cx="0" cy="-96" rx="12" ry="14" fill="#5c5c5c" opacity="0.8" filter="url(#b5)"/><ellipse cx="0" cy="-81" rx="11.5" ry="10.5" fill="#adadad" opacity="0.9" filter="url(#b5)"/><ellipse cx="0" cy="-40" rx="21" ry="18" fill="#5c5c5c" opacity="0.55" filter="url(#b5)"/><ellipse cx="0" cy="-40" rx="16" ry="13.5" fill="#bfbfbf" opacity="0.9" filter="url(#b5)"/><ellipse cx="0" cy="-40.3" rx="9.5" ry="8" fill="#ffffff" opacity="1.0" filter="url(#b3)"/><g transform="scale(1,-1)"><ellipse cx="0" cy="-96" rx="12" ry="14" fill="#5c5c5c" opacity="0.8" filter="url(#b5)"/><ellipse cx="0" cy="-81" rx="11.5" ry="10.5" fill="#adadad" opacity="0.9" filter="url(#b5)"/><ellipse cx="0" cy="-40" rx="21" ry="18" fill="#5c5c5c" opacity="0.55" filter="url(#b5)"/><ellipse cx="0" cy="-40" rx="16" ry="13.5" fill="#bfbfbf" opacity="0.9" filter="url(#b5)"/><ellipse cx="0" cy="-40.3" rx="9.5" ry="8" fill="#ffffff" opacity="1.0" filter="url(#b3)"/></g></g></g></g>
<rect x="405.85" y="306.65" width="203.30" height="203.20" fill="none" stroke="#000" stroke-opacity="0.72" stroke-width="1.2"/><text class="t" text-anchor="middle" x="428.30" y="532.7">3</text><text class="t" text-anchor="end" x="398.2" y="335.45">3</text><text class="t" text-anchor="middle" x="454.70" y="532.7">2</text><text class="t" text-anchor="end" x="398.2" y="361.85">2</text><text class="t" text-anchor="middle" x="481.10" y="532.7">1</text><text class="t" text-anchor="end" x="398.2" y="388.25">1</text><text class="t" text-anchor="middle" x="507.50" y="532.7">0</text><text class="t" text-anchor="end" x="398.2" y="414.65">0</text><text class="t" text-anchor="middle" x="533.90" y="532.7">1</text><text class="t" text-anchor="end" x="398.2" y="441.05">1</text><text class="t" text-anchor="middle" x="560.30" y="532.7">2</text><text class="t" text-anchor="end" x="398.2" y="467.45">2</text><text class="t" text-anchor="middle" x="586.70" y="532.7">3</text><text class="t" text-anchor="end" x="398.2" y="493.85">3</text><path d="M428.30 510.20000000000005v-3M428.30 306.3v3M405.5 328.09h3M609.5 328.09h-3M454.70 510.20000000000005v-3M454.70 306.3v3M405.5 354.66h3M609.5 354.66h-3M481.10 510.20000000000005v-3M481.10 306.3v3M405.5 381.23h3M609.5 381.23h-3M507.50 510.20000000000005v-3M507.50 306.3v3M405.5 407.80h3M609.5 407.80h-3M533.90 510.20000000000005v-3M533.90 306.3v3M405.5 434.37h3M609.5 434.37h-3M560.30 510.20000000000005v-3M560.30 306.3v3M405.5 460.94h3M609.5 460.94h-3M586.70 510.20000000000005v-3M586.70 306.3v3M405.5 487.51h3M609.5 487.51h-3" stroke="#000" stroke-opacity="0.75" stroke-width="1.3" fill="none"/>
<rect x="620" y="306.3" width="14" height="203.9" fill="url(#cb620_306)" stroke="#000" stroke-opacity="0.75" stroke-width="1.1"/><text class="t" x="641" y="313.17">1.5</text><path d="M620 357.28h2.5M634 357.28h-2.5" stroke="#000" stroke-opacity="0.8" stroke-width="1.3"/><text class="t" x="641" y="363.59">1</text><path d="M620 408.25h2.5M634 408.25h-2.5" stroke="#000" stroke-opacity="0.8" stroke-width="1.3"/><text class="t" x="641" y="414.00">0.5</text><path d="M620 459.23h2.5M634 459.23h-2.5" stroke="#000" stroke-opacity="0.8" stroke-width="1.3"/><text class="t" x="641" y="464.41">0</text><text class="t" x="641" y="514.83">−0.5</text>
<text class="l" text-anchor="middle" x="520.5" y="558.1"><tspan class="i">r</tspan> (Å)</text>
<text class="l" text-anchor="middle" transform="translate(377.7,408) rotate(-90)"><tspan class="i">r</tspan> (Å)</text>
<text class="u" text-anchor="middle" transform="translate(680.5,408.3) rotate(-90)">Arb. unit</text>
<text class="p" x="361.4" y="310">d</text>
</svg>
</body></html>
